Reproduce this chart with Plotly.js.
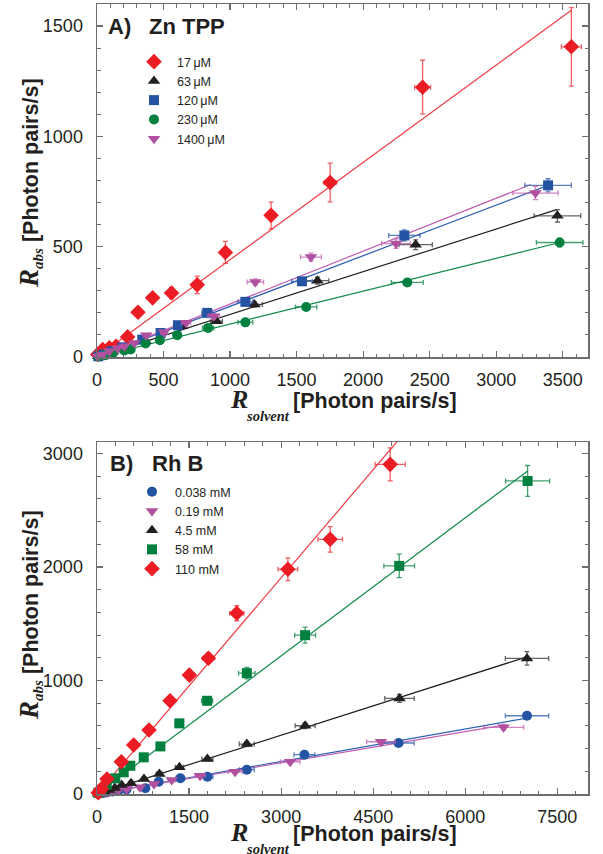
<!DOCTYPE html>
<html>
<head>
<meta charset="utf-8">
<script src="https://cdn.plot.ly/plotly-3.0.1.min.js"></script>
<style>html,body{margin:0;padding:0;background:#fff;}#chart{width:603px;height:854px;}</style>
</head>
<body>
<div id="chart"></div>
<script>
// ---------- Panel A: Zn TPP ----------
const znNames = ['17\u2009\u03bcM', '63\u2009\u03bcM', '120\u2009\u03bcM', '230\u2009\u03bcM', '1400\u2009\u03bcM'];

const zn17_x    = [5, 43, 93, 143, 230, 308, 418, 560, 753, 965, 1308, 1752, 2447, 3565];
const zn17_y    = [11, 34, 42, 49, 91, 203, 268, 290, 327, 474, 642, 791, 1223, 1406];
const zn17_xerr = [1, 2, 3, 4, 6, 8, 10, 14, 20, 25, 35, 45, 60, 75];
const zn17_yerr = [3, 5, 6, 7, 12, 10, 12, 25, 40, 50, 60, 88, 122, 178];

const zn63_x    = [10, 60, 120, 200, 365, 640, 898, 1183, 1657, 2395, 3460];
const zn63_y    = [3, 12, 25, 40, 71, 139, 162, 238, 346, 509, 640];
const zn63_xerr = [1, 3, 6, 10, 18, 32, 45, 60, 85, 125, 175];
const zn63_yerr = [1, 2, 3, 4, 5, 7, 9, 12, 16, 22, 28];

const zn120_x    = [10, 50, 110, 190, 340, 478, 608, 828, 1115, 1540, 2310, 3390];
const zn120_y    = [3, 12, 26, 44, 79, 109, 144, 200, 250, 343, 551, 778];
const zn120_xerr = [1, 3, 6, 10, 17, 24, 30, 41, 56, 77, 118, 175];
const zn120_yerr = [1, 2, 3, 4, 5, 6, 8, 10, 12, 16, 25, 30];

const zn230_x    = [10, 60, 120, 205, 253, 365, 473, 603, 835, 1115, 1572, 2332, 3477];
const zn230_y    = [2, 8, 18, 30, 34, 61, 76, 99, 132, 157, 227, 338, 519];
const zn230_xerr = [1, 3, 6, 10, 13, 18, 24, 30, 42, 56, 80, 120, 175];
const zn230_yerr = [1, 1, 2, 3, 3, 4, 5, 6, 8, 9, 12, 16, 20];

const zn1400_x    = [5, 43, 93, 155, 205, 280, 370, 503, 670, 878, 1190, 1608, 2247, 3295];
const zn1400_y    = [3, 11, 26, 40, 49, 64, 99, 112, 155, 185, 340, 453, 514, 743];
const zn1400_xerr = [1, 2, 5, 8, 10, 14, 19, 25, 34, 44, 62, 78, 108, 170];
const zn1400_yerr = [1, 2, 3, 4, 5, 6, 7, 8, 10, 12, 14, 18, 22, 30];

// fitted lines (panel A)
const znFit17_x = [0, 3565],        znFit17_y = [0, 1572];
const znFit63_x = [0, 3260, 3455],  znFit63_y = [0, 632, 668];
const znFit120_x = [0, 3390],       znFit120_y = [0, 778];
const znFit230_x = [0, 3477],       znFit230_y = [0, 519];
const znFit1400_x = [0, 3260],      znFit1400_y = [0, 782];

// ---------- Panel B: Rh B ----------
const rhNames = ['0.038 mM', '0.19 mM', '4.5 mM', '58 mM', '110 mM'];

const rh0038_x    = [20, 60, 110, 170, 250, 350, 480, 787, 1005, 1358, 1799, 2441, 3380, 4913, 7006];
const rh0038_y    = [2, 6, 10, 16, 22, 30, 40, 50, 108, 138, 152, 214, 346, 449, 689];
const rh0038_xerr = [1, 3, 6, 9, 13, 18, 24, 40, 50, 68, 90, 122, 169, 255, 353];
const rh0038_yerr = [1, 1, 1, 2, 2, 3, 3, 4, 5, 6, 8, 10, 14, 18, 25];

const rh019_x    = [20, 60, 110, 170, 250, 350, 484, 701, 929, 1218, 1679, 2250, 3147, 4626, 6625];
const rh019_y    = [2, 6, 10, 16, 24, 33, 44, 59, 88, 123, 161, 196, 284, 460, 587];
const rh019_xerr = [1, 3, 6, 9, 13, 18, 24, 35, 46, 61, 84, 113, 160, 234, 326];
const rh019_yerr = [1, 1, 1, 2, 2, 3, 3, 4, 5, 6, 8, 10, 14, 18, 25];

const rh45_x    = [20, 60, 120, 200, 290, 402, 554, 766, 1016, 1343, 1799, 2441, 3391, 4929, 7006];
const rh45_y    = [5, 12, 22, 36, 52, 79, 94, 132, 176, 235, 308, 440, 601, 842, 1194];
const rh45_xerr = [1, 3, 6, 10, 15, 20, 28, 38, 51, 67, 90, 122, 163, 240, 353];
const rh45_yerr = [1, 2, 2, 3, 4, 5, 6, 8, 10, 12, 16, 20, 26, 35, 59];

const rh58_x    = [20, 70, 158, 299, 435, 543, 761, 1033, 1342, 1794, 2441, 3391, 4924, 7016];
const rh58_y    = [10, 35, 82, 138, 191, 249, 323, 419, 622, 821, 1064, 1399, 2009, 2757];
const rh58_xerr = [1, 4, 8, 15, 22, 27, 38, 52, 67, 90, 135, 170, 250, 359];
const rh58_yerr = [2, 4, 6, 8, 10, 12, 15, 18, 25, 35, 50, 70, 103, 136];

const rh110_x    = [20, 70, 163, 396, 598, 848, 1190, 1505, 1815, 2277, 3110, 3799, 4777];
const rh110_y    = [12, 45, 132, 284, 431, 563, 821, 1047, 1196, 1592, 1979, 2243, 2903];
const rh110_xerr = [1, 4, 8, 20, 30, 42, 60, 75, 90, 115, 160, 200, 245];
const rh110_yerr = [2, 5, 10, 15, 20, 25, 35, 45, 45, 66, 100, 112, 145];

// fitted lines (panel B)
const rhFit0038_x = [0, 7006], rhFit0038_y = [0, 669];
const rhFit019_x  = [0, 6625], rhFit019_y  = [0, 607];
const rhFit45_x   = [0, 7006], rhFit45_y   = [0, 1208];
const rhFit58_x   = [0, 7016], rhFit58_y   = [0, 2844];
const rhFit110_x  = [0, 4900], rhFit110_y  = [0, 3110];

// ---------- styles ----------
const COL = {
  red:   {m: '#ec1c24', e: 'rgba(236,40,50,0.75)', l: '#ef3b42'},
  black: {m: '#231f20', e: 'rgba(60,60,60,0.8)',   l: '#231f20'},
  blue:  {m: '#2553a3', e: 'rgba(50,95,175,0.8)',  l: '#2d5fb2'},
  green: {m: '#00803f', e: 'rgba(20,135,75,0.8)',  l: '#0c8a47'},
  mag:   {m: '#b0509f', e: 'rgba(195,100,180,0.8)', l: '#c060b2'}
};

function pts(x, y, xe, ye, name, c, sym, size, xa, ya, leg) {
  return {
    type: 'scatter', mode: 'markers', x: x, y: y, name: name,
    xaxis: xa, yaxis: ya, legend: leg, cliponaxis: false,
    marker: {symbol: sym, size: size, color: c.m, line: {width: 0}},
    error_x: {type: 'data', array: xe, color: c.e, thickness: 1.3, width: 2.5},
    error_y: {type: 'data', array: ye, color: c.e, thickness: 1.3, width: 2.5}
  };
}
function fit(x, y, c, xa, ya) {
  return {type: 'scatter', mode: 'lines', x: x, y: y, xaxis: xa, yaxis: ya,
    showlegend: false, hoverinfo: 'skip', line: {color: c.l, width: 1.2}};
}

const data = [
  fit(znFit230_x, znFit230_y, COL.green, 'x', 'y'),
  fit(znFit63_x, znFit63_y, COL.black, 'x', 'y'),
  fit(znFit120_x, znFit120_y, COL.blue, 'x', 'y'),
  fit(znFit1400_x, znFit1400_y, COL.mag, 'x', 'y'),
  fit(znFit17_x, znFit17_y, COL.red, 'x', 'y'),
  pts(zn17_x, zn17_y, zn17_xerr, zn17_yerr, znNames[0], COL.red, 'diamond', 12, 'x', 'y', 'legend'),
  pts(zn63_x, zn63_y, zn63_xerr, zn63_yerr, znNames[1], COL.black, 'triangle-up', 11, 'x', 'y', 'legend'),
  pts(zn120_x, zn120_y, zn120_xerr, zn120_yerr, znNames[2], COL.blue, 'square', 10, 'x', 'y', 'legend'),
  pts(zn230_x, zn230_y, zn230_xerr, zn230_yerr, znNames[3], COL.green, 'circle', 10, 'x', 'y', 'legend'),
  pts(zn1400_x, zn1400_y, zn1400_xerr, zn1400_yerr, znNames[4], COL.mag, 'triangle-down', 11, 'x', 'y', 'legend'),

  fit(rhFit0038_x, rhFit0038_y, COL.blue, 'x2', 'y2'),
  fit(rhFit019_x, rhFit019_y, COL.mag, 'x2', 'y2'),
  fit(rhFit45_x, rhFit45_y, COL.black, 'x2', 'y2'),
  fit(rhFit58_x, rhFit58_y, COL.green, 'x2', 'y2'),
  fit(rhFit110_x, rhFit110_y, COL.red, 'x2', 'y2'),
  pts(rh0038_x, rh0038_y, rh0038_xerr, rh0038_yerr, rhNames[0], COL.blue, 'circle', 10, 'x2', 'y2', 'legend2'),
  pts(rh019_x, rh019_y, rh019_xerr, rh019_yerr, rhNames[1], COL.mag, 'triangle-down', 11, 'x2', 'y2', 'legend2'),
  pts(rh45_x, rh45_y, rh45_xerr, rh45_yerr, rhNames[2], COL.black, 'triangle-up', 11, 'x2', 'y2', 'legend2'),
  pts(rh58_x, rh58_y, rh58_xerr, rh58_yerr, rhNames[3], COL.green, 'square', 10, 'x2', 'y2', 'legend2'),
  pts(rh110_x, rh110_y, rh110_xerr, rh110_yerr, rhNames[4], COL.red, 'diamond', 12, 'x2', 'y2', 'legend2')
];

const AX = '#6d6e71';
const SANS = 'Liberation Sans, Arial, sans-serif';
const SERIF = 'Liberation Serif, Times New Roman, serif';
function axis(range, dtick, minor, domain, anchor, standoff) {
  return {
    range: range, dtick: dtick, tick0: 0, domain: domain, anchor: anchor,
    ticks: 'inside', ticklen: 6, tickwidth: 1.2, tickcolor: AX,
    minor: {dtick: minor, tick0: 0, ticks: 'inside', ticklen: 3.5, tickwidth: 1, tickcolor: AX},
    showline: true, linecolor: AX, linewidth: 1.5, mirror: 'ticks',
    showgrid: false, zeroline: false, ticklabelstandoff: standoff,
    tickfont: {family: SANS, size: 18, color: '#231f20'}
  };
}

const H = 854, L = 97, PW = 491;
const py = p => 1 - p / H;
const px = p => (p - L) / PW;

const serifR = '<span style="font-family:Liberation Serif, Times New Roman, serif;font-size:27px">R</span>';
const yTitle = '<b><i>' + serifR + '<sub><span style="font-family:Liberation Serif, Times New Roman, serif">abs</span></sub></i> [Photon pairs/s]</b>';
const tfont = {family: SANS, size: 21.5, color: '#231f20'};
const pfont = {family: SANS, size: 22, color: '#231f20'};
const rfont = {family: SERIF, size: 26, color: '#231f20'};
const sfont = {family: SERIF, size: 14.5, color: '#231f20'};

function ann(text, x, y, opts) {
  return Object.assign({text: text, xref: 'paper', yref: 'paper', x: x, y: y,
    showarrow: false, font: tfont, xanchor: 'center', yanchor: 'middle', borderpad: 0}, opts || {});
}
// x-axis title pieces: R, subscript, bracket text (baseline in px)
function xTitleAnns(base) {
  return [
    ann('<b><i>R</i></b>', px(229), py(base - 0.3375 * 26), {xanchor: 'left', font: rfont}),
    ann('<b><i>solvent</i></b>', px(245), py(base + 13 - 0.3375 * 14.5), {xanchor: 'left', font: sfont}),
    ann('<b>[Photon pairs/s]</b>', px(292), py(base - 0.3465 * 21.5), {xanchor: 'left', font: tfont})
  ];
}

const layout = {
  width: 603, height: 854,
  margin: {l: L, r: 15, t: 0, b: 0},
  paper_bgcolor: '#ffffff', plot_bgcolor: '#ffffff',
  font: {family: SANS, color: '#231f20'},
  xaxis: axis([0, 3690], 500, 100, [0, 1], 'y', 6),
  yaxis: axis([0, 1600], 500, 100, [py(357), py(4)], 'x', 9),
  xaxis2: axis([0, 8000], 1500, 300, [0, 1], 'y2', 6),
  yaxis2: axis([0, 3100], 1000, 200, [py(794), py(442)], 'x2', 9),
  legend: {x: px(131), y: py(47), xanchor: 'left', yanchor: 'top', bgcolor: 'rgba(0,0,0,0)',
    font: {family: SANS, size: 12.5, color: '#231f20'}, itemwidth: 36, tracegroupgap: 0},
  legend2: {x: px(129), y: py(477), xanchor: 'left', yanchor: 'top', bgcolor: 'rgba(0,0,0,0)',
    font: {family: SANS, size: 12.5, color: '#231f20'}, itemwidth: 36, tracegroupgap: 0},
  annotations: [
    ann(yTitle, px(30), py(183), {textangle: -90}),
    ann(yTitle, px(30), py(615), {textangle: -90}),
    ...xTitleAnns(408),
    ...xTitleAnns(841),
    ann('<b>A)</b>', px(107), py(26), {xanchor: 'left', font: pfont}),
    ann('<b>Zn TPP</b>', px(148), py(26), {xanchor: 'left', font: pfont}),
    ann('<b>B)</b>', px(109), py(463), {xanchor: 'left', font: pfont}),
    ann('<b>Rh B</b>', px(151), py(463), {xanchor: 'left', font: pfont})
  ]
};

Plotly.newPlot('chart', data, layout, {staticPlot: true, displayModeBar: false});
</script>
</body>
</html>
